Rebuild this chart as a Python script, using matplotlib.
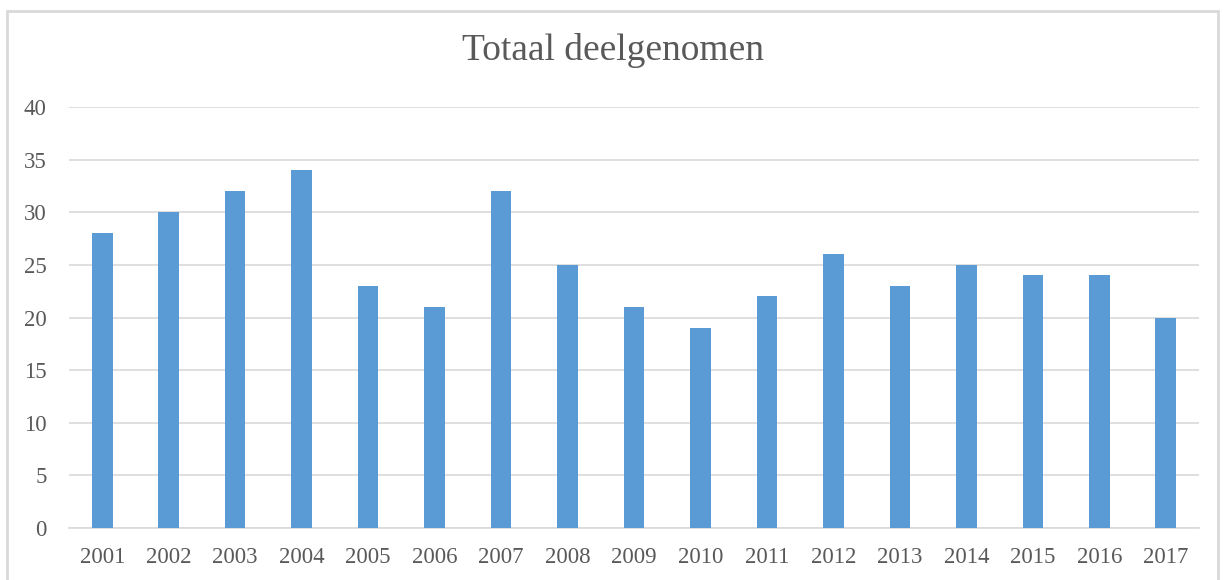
import matplotlib.pyplot as plt
from matplotlib.patches import Rectangle

# Data
years = [str(y) for y in range(2001, 2018)]
totaal = [28, 30, 32, 34, 23, 21, 32, 25, 21, 19, 22, 26, 23, 25, 24, 24, 20]

plt.rcParams['font.family'] = ['Liberation Serif', 'DejaVu Serif']

W, H = 1225, 580
fig = plt.figure(figsize=(W / 100, H / 100), dpi=100)
ax = fig.add_axes([69 / W, (H - 528) / H, (1199 - 69) / W, (528 - 107) / H])

x = range(len(years))
ax.bar(x, totaal, width=0.31, color='#5B9BD5', zorder=3)

ax.set_xlim(-0.5, len(years) - 0.5)
ax.set_ylim(0, 40)
ax.set_yticks(range(0, 41, 5))
ax.set_xticks(list(x))
ax.set_xticklabels(years)
ax.yaxis.grid(True, color='#d9d9d9', linewidth=1.2, zorder=0)
for s in ['top', 'right', 'left']:
    ax.spines[s].set_visible(False)
ax.spines['bottom'].set_color('#d9d9d9')
ax.spines['bottom'].set_linewidth(1.2)
ax.tick_params(axis='both', length=0, labelsize=16.5, colors='#595959')
ax.tick_params(axis='y', pad=16)
ax.tick_params(axis='x', pad=14)

fig.text(0.5, (H - 50) / H, 'Totaal deelgenomen', ha='center', va='center',
         fontsize=27, color='#595959')

# rand om de grafiek
fig.patches.append(Rectangle((7 / W, -0.05), (1218 - 7) / W, (H - 11) / H + 0.05,
                             transform=fig.transFigure, fill=False,
                             edgecolor='#d9d9d9', linewidth=2))

fig.savefig('out.png', dpi=100)
